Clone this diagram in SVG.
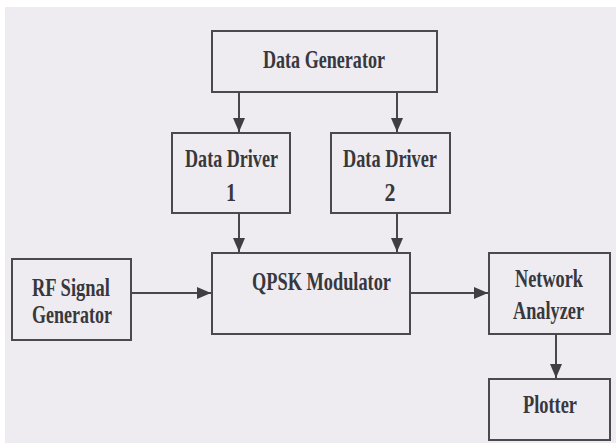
<svg xmlns="http://www.w3.org/2000/svg" width="616" height="445" viewBox="0 0 616 445">
  <defs>
    <marker id="arrow" markerUnits="userSpaceOnUse" markerWidth="14" markerHeight="12" refX="14" refY="6" orient="auto">
      <path d="M0,0 L14,6 L0,12 Z" fill="#3f3f42"/>
    </marker>
    <style>
      .box { fill: none; stroke: #4a4a4e; stroke-width: 2; }
      .lbl { font-family: "Liberation Serif", "Times New Roman", serif; font-weight: bold; font-size: 26px; fill: #38383c; }
      .mid { text-anchor: middle; }
      .conn { fill: none; stroke: #48484c; stroke-width: 2; marker-end: url(#arrow); }
    </style>
  </defs>

  <rect x="0" y="0" width="616" height="445" fill="#ffffff"/>
  <rect x="5" y="7" width="611" height="436" fill="#efecf1"/>

  <g id="data-generator">
    <rect class="box" x="212" y="31" width="225" height="61"/>
    <text class="lbl" x="263" y="68" textLength="122" lengthAdjust="spacingAndGlyphs">Data Generator</text>
  </g>

  <g id="data-driver-1">
    <rect class="box" x="172" y="133" width="118" height="80"/>
    <text class="lbl" x="185" y="167" textLength="93" lengthAdjust="spacingAndGlyphs">Data Driver</text>
    <text class="lbl mid" x="231" y="201" textLength="10" lengthAdjust="spacingAndGlyphs">1</text>
  </g>

  <g id="data-driver-2">
    <rect class="box" x="331" y="133" width="119" height="80"/>
    <text class="lbl" x="343" y="167" textLength="94" lengthAdjust="spacingAndGlyphs">Data Driver</text>
    <text class="lbl mid" x="390" y="201" textLength="11" lengthAdjust="spacingAndGlyphs">2</text>
  </g>

  <g id="rf-signal-generator">
    <rect class="box" x="12" y="259" width="119" height="81"/>
    <text class="lbl" x="32" y="296" textLength="78" lengthAdjust="spacingAndGlyphs">RF Signal</text>
    <text class="lbl" x="32" y="323" textLength="80" lengthAdjust="spacingAndGlyphs">Generator</text>
  </g>

  <g id="qpsk-modulator">
    <rect class="box" x="212" y="253" width="198" height="81"/>
    <text class="lbl" x="252" y="290" textLength="139" lengthAdjust="spacingAndGlyphs">QPSK Modulator</text>
  </g>

  <g id="network-analyzer">
    <rect class="box" x="489" y="253" width="121" height="81"/>
    <text class="lbl" x="515" y="287" textLength="68" lengthAdjust="spacingAndGlyphs">Network</text>
    <text class="lbl" x="513" y="319" textLength="71" lengthAdjust="spacingAndGlyphs">Analyzer</text>
  </g>

  <g id="plotter">
    <rect class="box" x="489" y="379" width="121" height="61"/>
    <text class="lbl" x="523" y="413" textLength="54" lengthAdjust="spacingAndGlyphs">Plotter</text>
  </g>

  <g id="connectors">
    <line class="conn" x1="239" y1="92" x2="239" y2="132"/>
    <line class="conn" x1="397" y1="92" x2="397" y2="132"/>
    <line class="conn" x1="239" y1="213" x2="239" y2="252"/>
    <line class="conn" x1="397" y1="213" x2="397" y2="252"/>
    <line class="conn" x1="131" y1="293" x2="211" y2="293"/>
    <line class="conn" x1="410" y1="293" x2="488" y2="293"/>
    <line class="conn" x1="556" y1="334" x2="556" y2="378"/>
  </g>
</svg>
